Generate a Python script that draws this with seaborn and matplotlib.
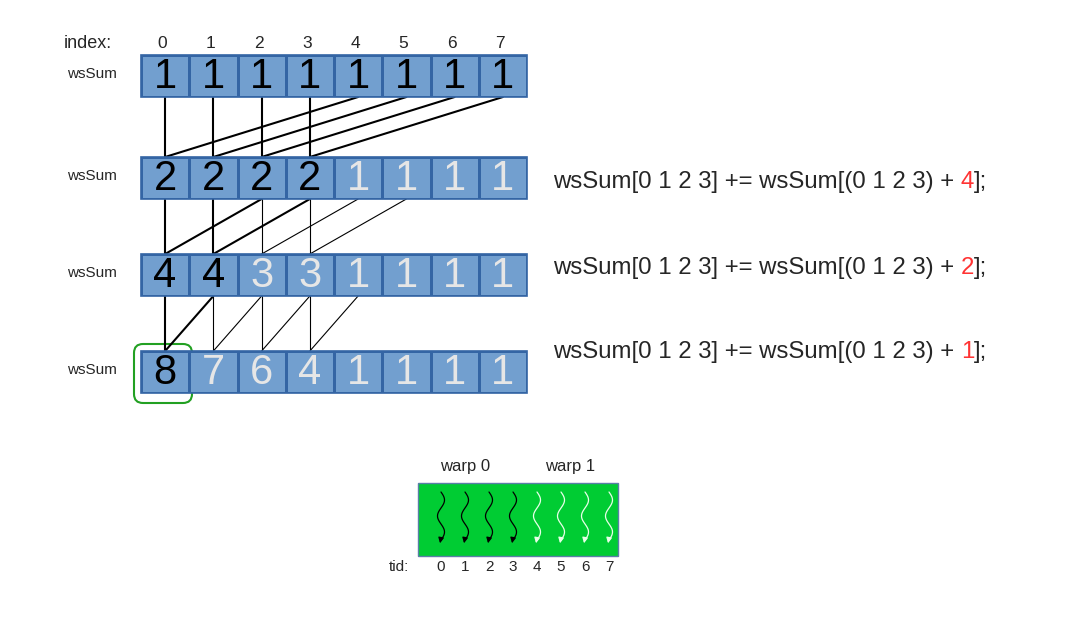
import numpy as np
import matplotlib.pyplot as plt
import seaborn as sns
from matplotlib.colors import ListedColormap
from matplotlib.patches import FancyBboxPatch, Rectangle

sns.set_style("white")
plt.rcParams['font.family'] = ['Liberation Sans', 'DejaVu Sans']

# data
rows = [[1, 1, 1, 1, 1, 1, 1, 1],
        [2, 2, 2, 2, 1, 1, 1, 1],
        [4, 4, 3, 3, 1, 1, 1, 1],
        [8, 7, 6, 4, 1, 1, 1, 1]]
dark_count = [8, 4, 2, 1]        # cells shown in black text per row
offsets = ["4", "2", "1"]
index = list(range(8))
tids = list(range(8))

W, H = 1086, 620
fig = plt.figure(figsize=(W / 100, H / 100), dpi=100)
ax = fig.add_axes([0, 0, 1, 1])
ax.set_xlim(0, W)
ax.set_ylim(H, 0)
ax.axis("off")

x0, x1 = 141, 527
cw = (x1 - x0) / 8
ch = 42
row_top = [55, 157, 254, 351]
cell_c = "#729fcf"
edge_c = "#3465a4"
light = "#e6e6e6"

for r, vals in enumerate(rows):
    y = row_top[r]
    hax = fig.add_axes([x0 / W, 1 - (y + ch) / H, (x1 - x0) / W, ch / H])
    sns.heatmap(np.array([vals]), ax=hax, cmap=ListedColormap([cell_c]), cbar=False,
                linewidths=0.8, linecolor=edge_c, xticklabels=False, yticklabels=False)
    hax.add_patch(Rectangle((0, 0), 8, 1, fill=False, ec=edge_c, lw=1.2, clip_on=False))
    for i, v in enumerate(vals):
        hax.text(i + 0.5, 0.52, str(v), ha="center", va="center", fontsize=30,
                 color="black" if i < dark_count[r] else light)
    ax.text(67, y + ch / 2 - 2, "wsSum", ha="left", va="center", fontsize=11)

ax.text(64, 44, "index:", ha="left", va="center", fontsize=13)
for i in index:
    ax.text(x0 + cw * (i + 0.5) - 3, 44, str(i), ha="center", va="center", fontsize=12.5)

def cx(i):
    return x0 + cw * (i + 0.5)

# connections
strides = [4, 2, 1]
thick = [4, 2, 1]
for k in range(3):
    ya = row_top[k] + ch
    yb = row_top[k + 1]
    s = strides[k]
    for i in range(4):
        lw = 1.5 if i < thick[k] else 0.8
        ax.plot([cx(i), cx(i)], [ya, yb], color="black", lw=lw)
        ax.plot([cx(i + s), cx(i)], [ya, yb], color="black", lw=lw)

ax.add_patch(FancyBboxPatch((134, 344), 58, 59, boxstyle="round,pad=0,rounding_size=9",
                            fill=False, ec="#22a022", lw=1.5))

for k, (yc, off) in enumerate(zip([182, 268, 352], offsets)):
    t = ax.text(553, yc, "wsSum[0 1 2 3] += wsSum[(0 1 2 3) + ", ha="left", va="center", fontsize=17.3)
    t2 = ax.annotate(off, xy=(1, 0.5), xycoords=t, ha="left", va="center", fontsize=17.3, color="#ff3333")
    ax.annotate("];", xy=(1, 0.5), xycoords=t2, ha="left", va="center", fontsize=17.3)

# warp box
ax.add_patch(Rectangle((418, 483), 200, 73, fc="#00cc33", ec="#5a7fa8", lw=1))
ax.text(465, 467, "warp 0", ha="center", va="center", fontsize=12)
ax.text(570, 467, "warp 1", ha="center", va="center", fontsize=12)
ax.text(389, 567, "tid:", ha="left", va="center", fontsize=11)
ys = np.linspace(492, 540, 60)
for t in tids:
    xc = 441 + 24 * t
    col = "black" if t < 4 else "#e8ffe8"
    xs = xc + 3.5 * np.sin((ys - 492) / 48 * 3 * np.pi)
    ax.plot(xs, ys, color=col, lw=0.9)
    ax.annotate("", xy=(xs[-1] - 1.5, 546), xytext=(xs[-1], 538),
                arrowprops=dict(arrowstyle="-|>", color=col, lw=0.9, mutation_scale=8))
    ax.text(xc, 567, str(t), ha="center", va="center", fontsize=11)

fig.savefig("out.png", dpi=100)
